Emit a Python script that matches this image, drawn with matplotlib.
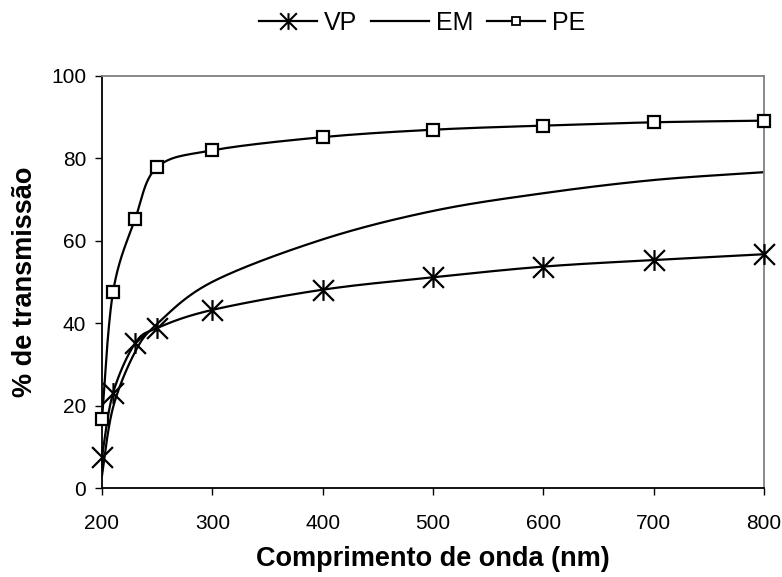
import numpy as np
import matplotlib
matplotlib.use("Agg")
import matplotlib.pyplot as plt
from matplotlib.path import Path

plt.rcParams['font.family'] = ['Liberation Sans', 'DejaVu Sans']

wavelength = [200, 210, 230, 250, 300, 400, 500, 600, 700, 800]
vp = [7.6, 23.0, 35.1, 38.8, 43.2, 48.1, 51.1, 53.7, 55.3, 56.7]
em = [3.0, 19.5, 33.0, 39.8, 50.0, 60.3, 67.2, 71.5, 74.7, 76.6]
pe = [16.7, 47.5, 65.2, 77.8, 81.9, 85.1, 86.9, 87.9, 88.7, 89.1]


def smooth(xs, ys, n=40):
    x = np.asarray(xs, float)
    y = np.asarray(ys, float)
    px = np.concatenate([[x[0]], x, [x[-1]]])
    py = np.concatenate([[y[0]], y, [y[-1]]])
    outx, outy = [x[0]], [y[0]]
    t = np.linspace(0, 1, n)[1:]
    for i in range(1, len(px) - 2):
        p0 = np.array([px[i], py[i]])
        p3 = np.array([px[i + 1], py[i + 1]])
        c1 = p0 + (p3 - np.array([px[i - 1], py[i - 1]])) / 6
        c2 = p3 - (np.array([px[i + 2], py[i + 2]]) - p0) / 6
        b = ((1 - t) ** 3)[:, None] * p0 + (3 * (1 - t) ** 2 * t)[:, None] * c1 \
            + (3 * (1 - t) * t ** 2)[:, None] * c2 + (t ** 3)[:, None] * p3
        outx.extend(b[:, 0])
        outy.extend(b[:, 1])
    return np.array(outx), np.array(outy)


star = Path([(-1, -1), (1, 1), (-1, 1), (1, -1), (0, -1), (0, 1)],
            [Path.MOVETO, Path.LINETO, Path.MOVETO, Path.LINETO, Path.MOVETO, Path.LINETO])

fig = plt.figure(figsize=(7.82, 5.77), dpi=100)
ax = fig.add_axes([0.1304, 0.1542, 0.9770 - 0.1304, 0.8688 - 0.1542])

lw = 1.6
sx, sy = smooth(wavelength, vp)
ax.plot(sx, sy, color='black', lw=lw)
ax.plot(wavelength, vp, ls='none', marker=star, ms=15, mew=1.6, color='black', clip_on=False, zorder=5)
h_vp, = ax.plot([], [], color='black', lw=lw, marker=star, ms=12, mew=1.5)

sx, sy = smooth(wavelength, em)
h_em, = ax.plot(sx, sy, color='black', lw=lw)

sx, sy = smooth(wavelength, pe)
ax.plot(sx, sy, color='black', lw=lw)
ax.plot(wavelength, pe, ls='none', marker='s', ms=8, mew=1.6, mfc='white', mec='black', clip_on=False, zorder=5)
h_pe, = ax.plot([], [], color='black', lw=lw, marker='s', ms=6, mew=1.3, mfc='white', mec='black')

ax.set_xlim(200, 800)
ax.set_ylim(0, 100)
ax.set_xticks([200, 300, 400, 500, 600, 700, 800])
ax.set_yticks([0, 20, 40, 60, 80, 100])
ax.tick_params(direction='out', length=4.8, width=1, labelsize=15, colors='black')
ax.tick_params(axis='x', pad=14)
ax.tick_params(axis='y', pad=6.5)
ax.spines['left'].set_color('black')
ax.spines['bottom'].set_color('black')
ax.spines['top'].set_color('#808080')
ax.spines['right'].set_color('#808080')
for s in ax.spines.values():
    s.set_linewidth(1.3)

ax.set_xlabel('Comprimento de onda (nm)', fontsize=19.5, fontweight='bold', labelpad=9)
ax.set_ylabel('% de transmissão', fontsize=19.5, fontweight='bold', labelpad=9.5)

fig.legend([h_vp, h_em, h_pe], ['VP', 'EM', 'PE'], loc='upper center',
           bbox_to_anchor=(0.54, 1.02), ncol=3, frameon=False, fontsize=18,
           handlelength=2.32, columnspacing=0.56, handletextpad=0.28)

fig.savefig('out.png', dpi=100)
